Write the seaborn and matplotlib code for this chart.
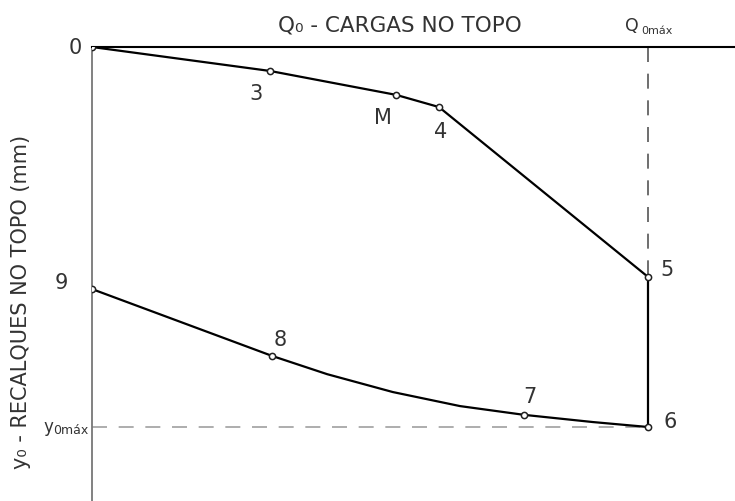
import matplotlib
matplotlib.use("Agg")
import matplotlib.pyplot as plt
import seaborn as sns
import pandas as pd

# Labelled points of the load test (Q as fraction of Q0max, y as fraction of y0max)
labels = ["0", "3", "M", "4", "5", "6", "7", "8", "9"]
q_load = [0.0, 0.320, 0.547, 0.624, 1.0, 1.0, 0.777, 0.324, 0.0]
y_settle = [0.0, 0.063, 0.126, 0.158, 0.605, 1.0, 0.968, 0.813, 0.637]

# Full loading / unloading path, traced through the test readings
path_q = [0.0, 0.320, 0.547, 0.624, 1.0, 1.0, 0.901, 0.777, 0.662, 0.541,
          0.423, 0.324, 0.0]
path_y = [0.0, 0.063, 0.126, 0.158, 0.605, 1.0, 0.987, 0.968, 0.945, 0.908,
          0.861, 0.813, 0.637]

# Label offsets in points (dx, dy) and alignment
label_offsets = {
    "0": (-7, 0, "right", "center"),
    "3": (-10, -9, "center", "top"),
    "M": (-9.5, -8.5, "center", "top"),
    "4": (1.5, -10, "center", "top"),
    "5": (8.6, 6, "left", "center"),
    "6": (11, 4, "left", "center"),
    "7": (4, 6.5, "center", "bottom"),
    "8": (6, 5, "center", "bottom"),
    "9": (-17, 5, "right", "center"),
}

pts = pd.DataFrame({"Q": q_load, "y": y_settle, "ponto": labels})
path = pd.DataFrame({"Q": path_q, "y": path_y})

sns.set_style("white")
plt.rcParams["font.family"] = ["DejaVu Sans"]

fig = plt.figure(figsize=(7.35, 5.02), dpi=100)
ax = fig.add_axes([92 / 735, 0.0, 1 - 92 / 735, 1 - 48 / 502])

# Reference lines at Q0max and y0max
qmax = max(q_load)
ymax = max(y_settle)
ax.plot([qmax, qmax], [0, y_settle[4]], color="#555555", lw=1.2,
        dashes=(9, 7), zorder=1)
ax.plot([0, qmax], [ymax, ymax], color="#a0a0a0", lw=1.2,
        dashes=(9, 7), zorder=1)

sns.lineplot(data=path, x="Q", y="y", sort=False, estimator=None,
             color="black", lw=1.6, ax=ax, zorder=3)
sns.scatterplot(data=pts, x="Q", y="y", s=20, marker="o", color="white",
                edgecolor="#222222", linewidth=1.1, ax=ax, zorder=4)

for lab, qx, yy in zip(labels, q_load, y_settle):
    dx, dy, ha, va = label_offsets[lab]
    ax.annotate(lab, (qx, yy), xytext=(dx, dy), textcoords="offset points",
                ha=ha, va=va, fontsize=15, color="#333333")

ax.set_xlim(0, (735 - 92) / 556)
ax.set_ylim((502 - 48) / 380, 0)
ax.set_xticks([])
ax.set_yticks([])
ax.set_xlabel("")
ax.set_ylabel("")

for side in ("right", "bottom"):
    ax.spines[side].set_visible(False)
ax.spines["top"].set_color("black")
ax.spines["top"].set_linewidth(1.5)
ax.spines["left"].set_color("#777777")
ax.spines["left"].set_linewidth(1.3)

# Axis titles
fig.text(400 / 735, 1 - 25 / 502, "Q₀ - CARGAS NO TOPO", ha="center",
         va="center", fontsize=15.5, color="#333333")
fig.text(21 / 735, 1 - 302 / 502, "y₀ - RECALQUES NO TOPO (mm)", rotation=90,
         ha="center", va="center", fontsize=15, color="#333333")

# Q0max and y0max markers
fig.text(625 / 735, 1 - 26 / 502, "Q", ha="left", va="center",
         fontsize=12.5, color="#333333")
fig.text(641 / 735, 1 - 31 / 502, "0máx", ha="left", va="center",
         fontsize=8, color="#333333")
fig.text(88 / 735, 1 - 431 / 502, "0máx", ha="right", va="center",
         fontsize=9, color="#333333")
fig.text(53 / 735, 1 - 427 / 502, "y", ha="right", va="center",
         fontsize=12, color="#333333")

fig.savefig("out.png", dpi=100)
